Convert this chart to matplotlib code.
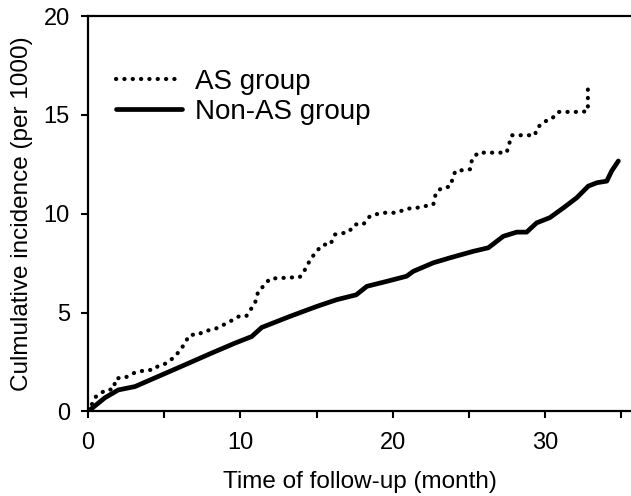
import matplotlib
matplotlib.use('Agg')
import matplotlib.pyplot as plt

plt.rcParams['font.family'] = ['Liberation Sans', 'DejaVu Sans']

# AS group (month, per 1000)
as_month = [0, 0.52, 1.16, 1.66, 1.84, 2.4, 3.08, 3.85, 4.3, 4.6, 5.16, 5.7, 6.15, 6.4, 6.7,
            7.24, 7.57, 8.33, 9.2, 9.97, 10.4, 10.96, 11.17, 11.5, 11.94, 13.9, 14.35, 14.57,
            15.1, 15.44, 15.9, 16.2, 17.1, 17.5, 18.06, 18.5, 19.27, 20.25, 20.9, 21.57, 22.66,
            22.83, 23.2, 23.75, 24.1, 25.07, 25.2, 25.6, 27.47, 27.8, 29.33, 29.44, 29.9, 30.4,
            30.86, 32.4, 32.8, 32.8]
as_rate = [0, 0.75, 1.09, 1.12, 1.68, 1.7, 1.97, 2.1, 2.1, 2.3, 2.44, 2.78, 3.2, 3.54, 3.88,
           3.88, 4.05, 4.17, 4.5, 4.84, 4.84, 5.49, 6.08, 6.33, 6.72, 6.8, 7.3, 7.68,
           8.19, 8.44, 8.44, 8.95, 9.07, 9.46, 9.46, 9.88, 10.05, 10.05, 10.25, 10.3, 10.47,
           11.06, 11.3, 11.37, 12.16, 12.25, 12.75, 13.09, 13.09, 13.97, 13.97, 14.31, 14.65, 14.78,
           15.15, 15.15, 15.2, 16.39]

# Non-AS group
non_month = [0, 1.12, 1.99, 3.08, 4.84, 6.36, 8.1, 9.65, 10.74, 11.4, 13.25, 15.0, 16.3,
             17.6, 18.3, 19.6, 20.9, 21.35, 22.66, 23.75, 25.28, 26.27, 27.25, 28.13, 28.78,
             29.44, 30.3, 31.2, 32.07, 32.83, 33.4, 34.04, 34.36, 34.8]
non_rate = [0, 0.7, 1.09, 1.26, 1.85, 2.36, 2.95, 3.46, 3.79, 4.25, 4.81, 5.31, 5.65,
            5.9, 6.33, 6.58, 6.84, 7.09, 7.52, 7.77, 8.1, 8.28, 8.86, 9.07, 9.07,
            9.54, 9.8, 10.3, 10.81, 11.4, 11.57, 11.65, 12.16, 12.67]

fig = plt.figure(figsize=(6.31, 4.96), dpi=100)
ax = fig.add_axes([0.1395, 0.1704, 0.8605, 0.7973])

ax.plot(as_month, as_rate, color='black', lw=3.0, linestyle=(0, (0.05, 1.95)),
        dash_capstyle='round', label='AS group')
ax.plot(non_month, non_rate, color='black', lw=3.4, solid_capstyle='round',
        solid_joinstyle='round', label='Non-AS group')

ax.set_xlim(0, 35.63)
ax.set_ylim(0, 20)
ax.set_xticks([0, 10, 20, 30])
ax.set_xticks([5, 15, 25, 35], minor=True)
ax.set_yticks([0, 5, 10, 15, 20])
ax.tick_params(which='both', direction='out', width=1.5, length=5, labelsize=17)
ax.tick_params(axis='y', pad=8)
ax.tick_params(axis='x', pad=10)

for s in ['left', 'bottom', 'top']:
    ax.spines[s].set_linewidth(1.6)
ax.spines['right'].set_visible(False)

ax.set_xlabel('Time of follow-up (month)', fontsize=17.5, labelpad=12)
ax.set_ylabel('Culmulative incidence (per 1000)', fontsize=17.5, labelpad=8)

leg = ax.legend(loc='upper left', bbox_to_anchor=(0.005, 0.93), frameon=False,
                fontsize=20, handlelength=2.4, handletextpad=0.45, labelspacing=0.15)

fig.savefig('out.png', dpi=100)
